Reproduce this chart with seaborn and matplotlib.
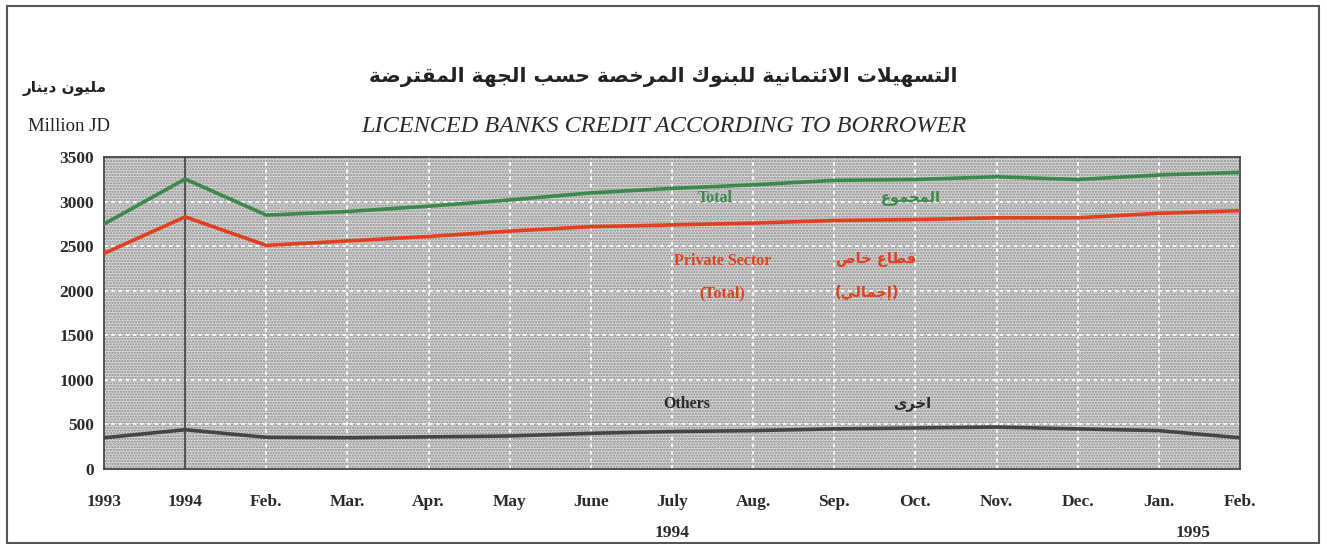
import numpy as np
import pandas as pd
import seaborn as sns
import matplotlib.pyplot as plt
from matplotlib.patches import Rectangle

# Data (million JD)
months = ['1993', '1994', 'Feb.', 'Mar.', 'Apr.', 'May', 'June', 'July',
          'Aug.', 'Sep.', 'Oct.', 'Nov.', 'Dec.', 'Jan.', 'Feb.']
total = [2750, 3255, 2850, 2890, 2950, 3020, 3100, 3150,
         3190, 3240, 3250, 3280, 3250, 3300, 3330]
private = [2420, 2830, 2510, 2560, 2610, 2670, 2720, 2740,
           2760, 2790, 2800, 2820, 2820, 2870, 2900]
others = [350, 440, 355, 350, 360, 370, 400, 420,
          430, 450, 460, 470, 450, 430, 350]

GREEN = '#3b8a4b'
RED = '#e0401e'
DARK = '#454545'

# matplotlib does no Arabic shaping, so pick presentation forms by hand
# 2 forms: iso, fin (right-joining); 4 forms: iso, fin, init, med
AR_FORMS = {
    'ا': '\uFE8D\uFE8E', 'أ': '\uFE83\uFE84', 'إ': '\uFE87\uFE88',
    'ب': '\uFE8F\uFE90\uFE91\uFE92', 'ة': '\uFE93\uFE94',
    'ت': '\uFE95\uFE96\uFE97\uFE98', 'ج': '\uFE9D\uFE9E\uFE9F\uFEA0',
    'ح': '\uFEA1\uFEA2\uFEA3\uFEA4', 'خ': '\uFEA5\uFEA6\uFEA7\uFEA8',
    'د': '\uFEA9\uFEAA', 'ر': '\uFEAD\uFEAE',
    'س': '\uFEB1\uFEB2\uFEB3\uFEB4', 'ص': '\uFEB9\uFEBA\uFEBB\uFEBC',
    'ض': '\uFEBD\uFEBE\uFEBF\uFEC0', 'ط': '\uFEC1\uFEC2\uFEC3\uFEC4',
    'ع': '\uFEC9\uFECA\uFECB\uFECC', 'ق': '\uFED5\uFED6\uFED7\uFED8',
    'ك': '\uFED9\uFEDA\uFEDB\uFEDC', 'ل': '\uFEDD\uFEDE\uFEDF\uFEE0',
    'م': '\uFEE1\uFEE2\uFEE3\uFEE4', 'ن': '\uFEE5\uFEE6\uFEE7\uFEE8',
    'ه': '\uFEE9\uFEEA\uFEEB\uFEEC', 'و': '\uFEED\uFEEE',
    'ى': '\uFEEF\uFEF0', 'ي': '\uFEF1\uFEF2\uFEF3\uFEF4',
    'ئ': '\uFE89\uFE8A\uFE8B\uFE8C',
}
LAM_ALEF = {'ا': '\uFEFB\uFEFC', 'أ': '\uFEF7\uFEF8', 'إ': '\uFEF9\uFEFA'}


def shape_ar(text):
    out = []
    i = 0
    while i < len(text):
        ch = text[i]
        prev = text[i - 1] if i > 0 else ''
        nxt = text[i + 1] if i + 1 < len(text) else ''
        joins_prev = len(AR_FORMS.get(prev, '')) == 4
        if ch == 'ل' and nxt in LAM_ALEF:
            out.append(LAM_ALEF[nxt][1 if joins_prev else 0])
            i += 2
            continue
        forms = AR_FORMS.get(ch)
        if forms is None:
            out.append(ch)
            i += 1
            continue
        joins_next = len(forms) == 4 and nxt in AR_FORMS
        if joins_prev and joins_next:
            k = 3
        elif joins_prev:
            k = 1
        elif joins_next:
            k = 2
        else:
            k = 0
        out.append(forms[k])
        i += 1
    vis = ''.join(reversed(out))
    return vis.translate(str.maketrans('()', ')('))


sns.set_theme(style='white')
plt.rcParams['font.family'] = ['Liberation Serif', 'DejaVu Sans']
plt.rcParams['hatch.linewidth'] = 1.1

x = np.arange(len(months))
df = pd.DataFrame({
    'x': np.tile(x, 3),
    'value': total + private + others,
    'series': ['Total'] * len(x) + ['Private'] * len(x) + ['Others'] * len(x),
})

fig = plt.figure(figsize=(13.27, 5.44), dpi=100)
ax = fig.add_axes([0.0784, 0.138, 0.856, 0.573])

# stippled grey background
ax.set_facecolor('#dadada')
ax.add_patch(Rectangle((0, 0), 1, 1, transform=ax.transAxes, facecolor='none',
                       edgecolor='#888888', hatch='......', lw=0, zorder=0))

sns.lineplot(data=df, x='x', y='value', hue='series',
             palette={'Total': GREEN, 'Private': RED, 'Others': DARK},
             linewidth=2.6, legend=False, ax=ax, zorder=3)

ax.axvline(1, color='#555555', lw=1.5, zorder=2)

ax.set_xlim(0, len(months) - 1)
ax.set_ylim(0, 3500)
ax.set_xticks(x)
ax.set_xticklabels(months)
ax.set_yticks(np.arange(0, 3501, 500))
ax.grid(True, color='white', linestyle=(0, (2, 2)), lw=1.3, zorder=1)
ax.set_axisbelow(True)
ax.set_xlabel('')
ax.set_ylabel('')
for s in ax.spines.values():
    s.set_color('#444444')
    s.set_linewidth(1.3)
ax.tick_params(axis='both', which='both', length=4, color='#555555',
               direction='out', labelsize=12.5, labelcolor='#2a2a2a', pad=3)
ax.tick_params(axis='x', pad=14)
for lab in ax.get_xticklabels() + ax.get_yticklabels():
    lab.set_fontweight('bold')

# year labels under the month axis
ax.text(7, -720, '1994', ha='center', va='center', fontsize=12.5,
        fontweight='bold', color='#2a2a2a')
ax.text(13.42, -720, '1995', ha='center', va='center', fontsize=12.5,
        fontweight='bold', color='#2a2a2a')

# series labels inside the plot
ar = dict(family='DejaVu Sans', fontweight='bold', fontsize=10.5, ha='center', va='center')
ax.text(7.53, 3040, 'Total', color=GREEN, fontsize=11.5, fontweight='bold', ha='center', va='center')
ax.text(9.94, 3040, shape_ar('المجموع'), color=GREEN, **ar)
ax.text(7.62, 2340, 'Private Sector', color=RED, fontsize=11.5, fontweight='bold', ha='center', va='center')
ax.text(7.62, 1975, '(Total)', color=RED, fontsize=11.5, fontweight='bold', ha='center', va='center')
ax.text(9.52, 2350, shape_ar('قطاع خاص'), color=RED, **ar)
ax.text(9.40, 1985, shape_ar('(إجمالي)'), color=RED, **ar)
ax.text(7.18, 730, 'Others', color='#2a2a2a', fontsize=11.5, fontweight='bold', ha='center', va='center')
ax.text(9.96, 740, shape_ar('اخرى'), color='#2a2a2a', **ar)

# titles and unit labels
fig.text(0.5, 0.858, shape_ar('التسهيلات الائتمانية للبنوك المرخصة حسب الجهة المقترضة'),
         family='DejaVu Sans', fontweight='bold', fontsize=14.5, ha='center', va='center',
         color='#222222')
fig.text(0.5, 0.767, 'LICENCED BANKS CREDIT ACCORDING TO BORROWER', fontstyle='italic',
         fontsize=17.5, ha='center', va='center', color='#2a2a2a')
fig.text(0.049, 0.838, shape_ar('مليون دينار'), family='DejaVu Sans', fontweight='bold',
         fontsize=11, ha='center', va='center', color='#222222')
fig.text(0.052, 0.767, 'Million JD', fontsize=13.5, ha='center', va='center', color='#222222')

# outer frame
fig.add_artist(Rectangle((0.0053, 0.002), 0.989, 0.987, transform=fig.transFigure,
                         fill=False, edgecolor='#555555', lw=1.5))

fig.savefig('out.png', dpi=100)
